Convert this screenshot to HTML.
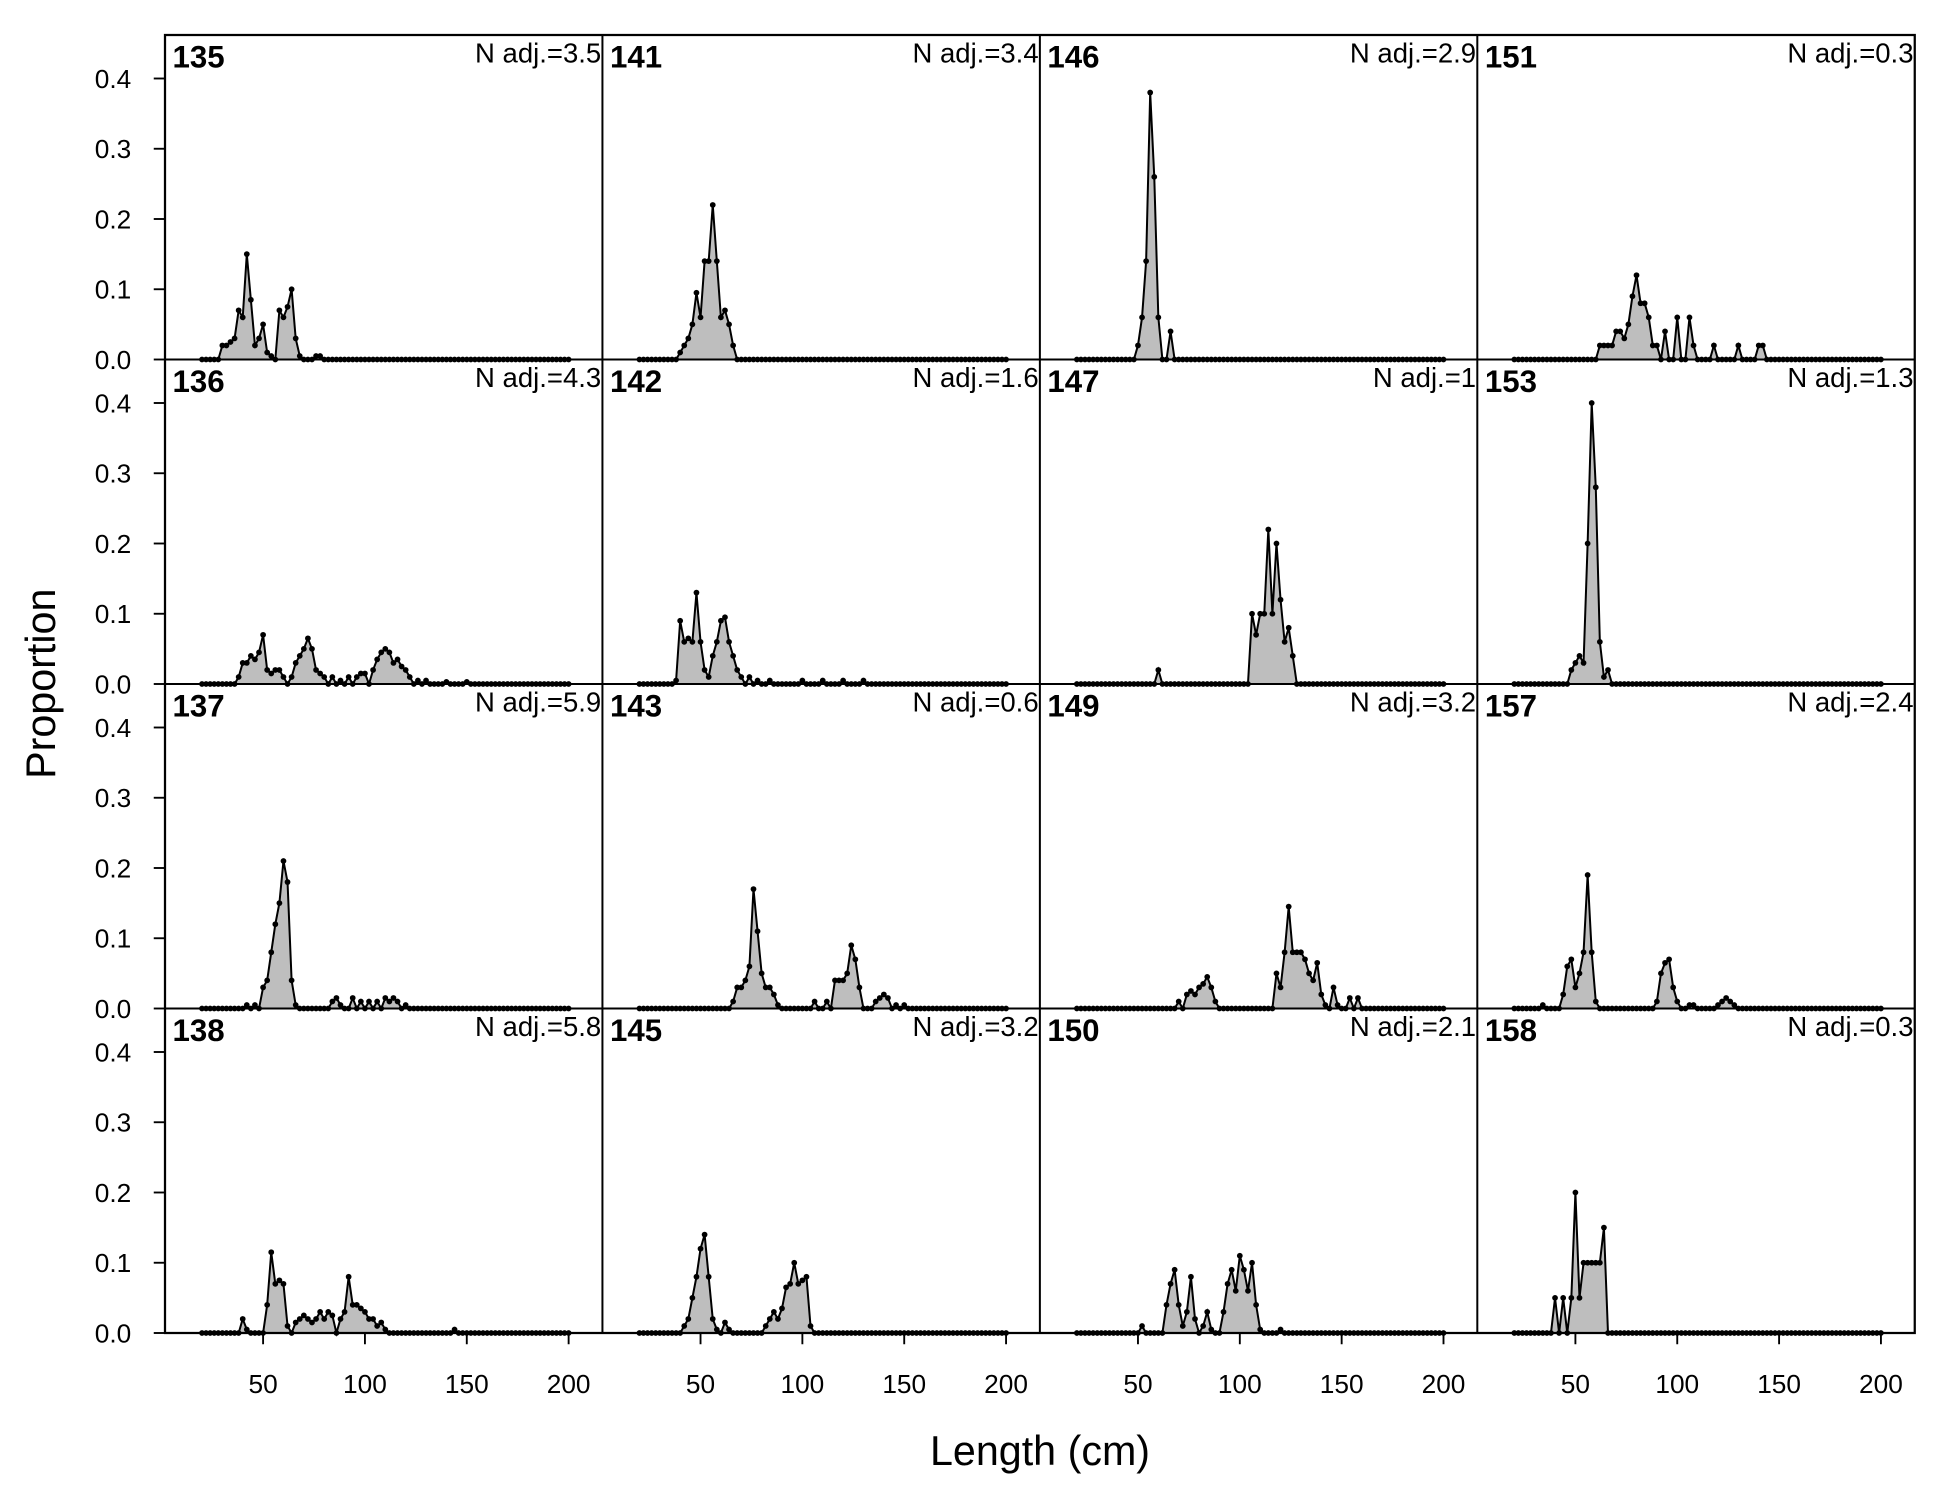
<!DOCTYPE html>
<html><head><meta charset="utf-8">
<style>
html,body{margin:0;padding:0;background:#fff;}
svg{display:block;font-family:"Liberation Sans",Arial,sans-serif;}
</style></head>
<body>
<svg id="chart" width="1950" height="1500" viewBox="0 0 1560 1200" xmlns="http://www.w3.org/2000/svg"></svg>
<script>
const panelIds = ["135","141","146","151","136","142","147","153","137","143","149","157","138","145","150","158"];
const nAdj = ["3.5","3.4","2.9","0.3","4.3","1.6","1","1.3","5.9","0.6","3.2","2.4","5.8","3.2","2.1","0.3"];
const yTicks = [0,0.1,0.2,0.3,0.4];
const yTickLabels = ["0.0","0.1","0.2","0.3","0.4"];
const xTicks = [50,100,150,200];
const binStart = 20, binEnd = 200, binStep = 2;
const p135 = [[30,.02],[32,.02],[34,.025],[36,.03],[38,.07],[40,.06],[42,.15],[44,.085],[46,.02],[48,.03],[50,.05],[52,.01],[54,.005],[58,.07],[60,.06],[62,.075],[64,.1],[66,.03],[68,.005],[76,.005],[78,.005]];
const p141 = [[40,.01],[42,.02],[44,.03],[46,.05],[48,.095],[50,.06],[52,.14],[54,.14],[56,.22],[58,.14],[60,.06],[62,.07],[64,.05],[66,.02]];
const p146 = [[50,.02],[52,.06],[54,.14],[56,.38],[58,.26],[60,.06],[64,0],[66,.04]];
const p151 = [[62,.02],[64,.02],[66,.02],[68,.02],[70,.04],[72,.04],[74,.03],[76,.05],[78,.09],[80,.12],[82,.08],[84,.08],[86,.06],[88,.02],[90,.02],[94,.04],[100,.06],[106,.06],[108,.02],[118,.02],[130,.02],[140,.02],[142,.02]];
const p136 = [[38,.01],[40,.03],[42,.03],[44,.04],[46,.035],[48,.045],[50,.07],[52,.02],[54,.015],[56,.02],[58,.02],[60,.01],[64,.01],[66,.03],[68,.04],[70,.05],[72,.065],[74,.05],[76,.02],[78,.015],[80,.01],[84,.01],[88,.005],[92,.01],[96,.01],[98,.015],[100,.015],[104,.02],[106,.035],[108,.045],[110,.05],[112,.045],[114,.03],[116,.035],[118,.025],[120,.02],[122,.01],[126,.005],[130,.005],[140,.003],[150,.003]];
const p142 = [[38,.005],[40,.09],[42,.06],[44,.065],[46,.06],[48,.13],[50,.06],[52,.02],[54,.01],[56,.04],[58,.06],[60,.09],[62,.095],[64,.06],[66,.04],[68,.02],[70,.01],[74,.01],[78,.005],[84,.005],[100,.005],[110,.005],[120,.005],[130,.005]];
const p147 = [[60,.02],[106,.1],[108,.07],[110,.1],[112,.1],[114,.22],[116,.1],[118,.2],[120,.12],[122,.06],[124,.08],[126,.04]];
const p153 = [[48,.02],[50,.03],[52,.04],[54,.03],[56,.2],[58,.4],[60,.28],[62,.06],[64,.01],[66,.02]];
const p137 = [[42,.005],[46,.005],[50,.03],[52,.04],[54,.08],[56,.12],[58,.15],[60,.21],[62,.18],[64,.04],[66,.005],[84,.01],[86,.015],[88,.005],[94,.015],[98,.01],[102,.01],[106,.01],[110,.015],[112,.01],[114,.015],[116,.01],[120,.005]];
const p143 = [[66,.01],[68,.03],[70,.03],[72,.04],[74,.06],[76,.17],[78,.11],[80,.05],[82,.03],[84,.03],[86,.02],[88,.005],[106,.01],[112,.01],[116,.04],[118,.04],[120,.04],[122,.05],[124,.09],[126,.07],[128,.03],[136,.01],[138,.015],[140,.02],[142,.015],[146,.005],[150,.005]];
const p149 = [[70,.01],[74,.02],[76,.025],[78,.02],[80,.03],[82,.035],[84,.045],[86,.03],[88,.01],[118,.05],[120,.03],[122,.08],[124,.145],[126,.08],[128,.08],[130,.08],[132,.07],[134,.05],[136,.04],[138,.065],[140,.02],[142,.005],[146,.03],[148,.005],[154,.015],[158,.015]];
const p157 = [[34,.005],[44,.02],[46,.06],[48,.07],[50,.03],[52,.05],[54,.08],[56,.19],[58,.08],[60,.01],[90,.01],[92,.05],[94,.065],[96,.07],[98,.03],[100,.01],[106,.005],[108,.005],[120,.005],[122,.01],[124,.015],[126,.01],[128,.005]];
const p138 = [[40,.02],[42,.005],[52,.04],[54,.115],[56,.07],[58,.075],[60,.07],[62,.01],[66,.015],[68,.02],[70,.025],[72,.02],[74,.015],[76,.02],[78,.03],[80,.02],[82,.03],[84,.025],[88,.02],[90,.03],[92,.08],[94,.04],[96,.04],[98,.035],[100,.03],[102,.02],[104,.02],[106,.01],[108,.015],[110,.005],[144,.005]];
const p145 = [[42,.01],[44,.02],[46,.05],[48,.08],[50,.12],[52,.14],[54,.08],[56,.02],[58,.005],[62,.015],[64,.005],[82,.01],[84,.02],[86,.03],[88,.02],[90,.035],[92,.065],[94,.07],[96,.1],[98,.07],[100,.075],[102,.08],[104,.01]];
const p150 = [[52,.01],[64,.04],[66,.07],[68,.09],[70,.04],[72,.01],[74,.03],[76,.08],[78,.02],[82,.01],[84,.03],[86,.005],[92,.03],[94,.07],[96,.09],[98,.06],[100,.11],[102,.09],[104,.06],[106,.1],[108,.04],[110,.005],[120,.005]];
const p158 = [[40,.05],[44,.05],[48,.05],[50,.2],[52,.05],[54,.1],[56,.1],[58,.1],[60,.1],[62,.1],[64,.15]];
const series = [p135,p141,p146,p151,p136,p142,p147,p153,p137,p143,p149,p157,p138,p145,p150,p158];

const NS="http://www.w3.org/2000/svg";
const svg=document.getElementById('chart');
const L=132,R=1531.8,T=28,B=1066.4,NC=4,NR=4;
const CW=(R-L)/NC, RH=(B-T)/NR;
function xs(col,v){return L+col*CW+v*1.6295-3;}
function ys(row,p){return T+(row+1)*RH - p*562;}
function mk(tag,attrs){const e=document.createElementNS(NS,tag);for(const k in attrs)e.setAttribute(k,attrs[k]);svg.appendChild(e);return e;}

for(let i=0;i<16;i++){
  const col=i%NC,row=Math.floor(i/NC);
  const map={};series[i].forEach(d=>map[d[0]]=d[1]);
  const pts=[];
  for(let v=binStart;v<=binEnd;v+=binStep){pts.push([xs(col,v),ys(row,map[v]||0)]);}
  const y0=ys(row,0);
  const area=mk('polygon',{points:pts.map(p=>p.join(',')).join(' ')+' '+pts[pts.length-1][0]+','+y0+' '+pts[0][0]+','+y0,fill:'#bebebe',stroke:'none'});
  
  
  const line=mk('polyline',{points:pts.map(p=>p.join(',')).join(' '),fill:'none',stroke:'#000','stroke-width':1.6});
  
  
  pts.forEach(p=>{
    const c=mk('circle',{cx:p[0],cy:p[1],r:2.3,fill:'#000'});
    
    
  });
  const id=mk('text',{x:L+col*CW+6,y:T+row*RH+26,'font-size':25,'font-weight':'bold'});
  id.textContent=panelIds[i];
  
  
  const na=mk('text',{x:L+(col+1)*CW-1,y:T+row*RH+22,'font-size':22,'text-anchor':'end'});
  na.textContent='N adj.='+nAdj[i];
  
  
}
for(let c=1;c<NC;c++){const l=mk('line',{x1:L+c*CW,x2:L+c*CW,y1:T,y2:B,stroke:'#000','stroke-width':1.6});}
for(let r=1;r<NR;r++){const l=mk('line',{x1:L,x2:R,y1:T+r*RH,y2:T+r*RH,stroke:'#000','stroke-width':1.6});}
const fr=mk('rect',{x:L,y:T,width:R-L,height:B-T,fill:'none',stroke:'#000','stroke-width':1.8});


for(let r=0;r<NR;r++){
  yTicks.forEach((t,j)=>{
    const y=ys(r,t);
    const tk=mk('line',{x1:L-9,x2:L,y1:y,y2:y,stroke:'#000','stroke-width':1.5});
    
    
    const tl=mk('text',{x:105,y:y+7.5,'font-size':21,'text-anchor':'end'});
    tl.textContent=yTickLabels[j];
    
    
  });
}
for(let c=0;c<NC;c++){
  xTicks.forEach(t=>{
    const x=xs(c,t);
    const tk=mk('line',{x1:x,x2:x,y1:B,y2:B+9,stroke:'#000','stroke-width':1.5});
    
    
    const tl=mk('text',{x:x,y:B+48,'font-size':21,'text-anchor':'middle'});
    tl.textContent=String(t);
    
    
  });
}
const xt=mk('text',{x:832,y:1172,'font-size':33,'text-anchor':'middle'});
xt.textContent='Length (cm)';


const yt=mk('text',{x:44,y:547,'font-size':33,'text-anchor':'middle',transform:'rotate(-90 44 547)'});
yt.textContent='Proportion';


</script>
</body></html>
